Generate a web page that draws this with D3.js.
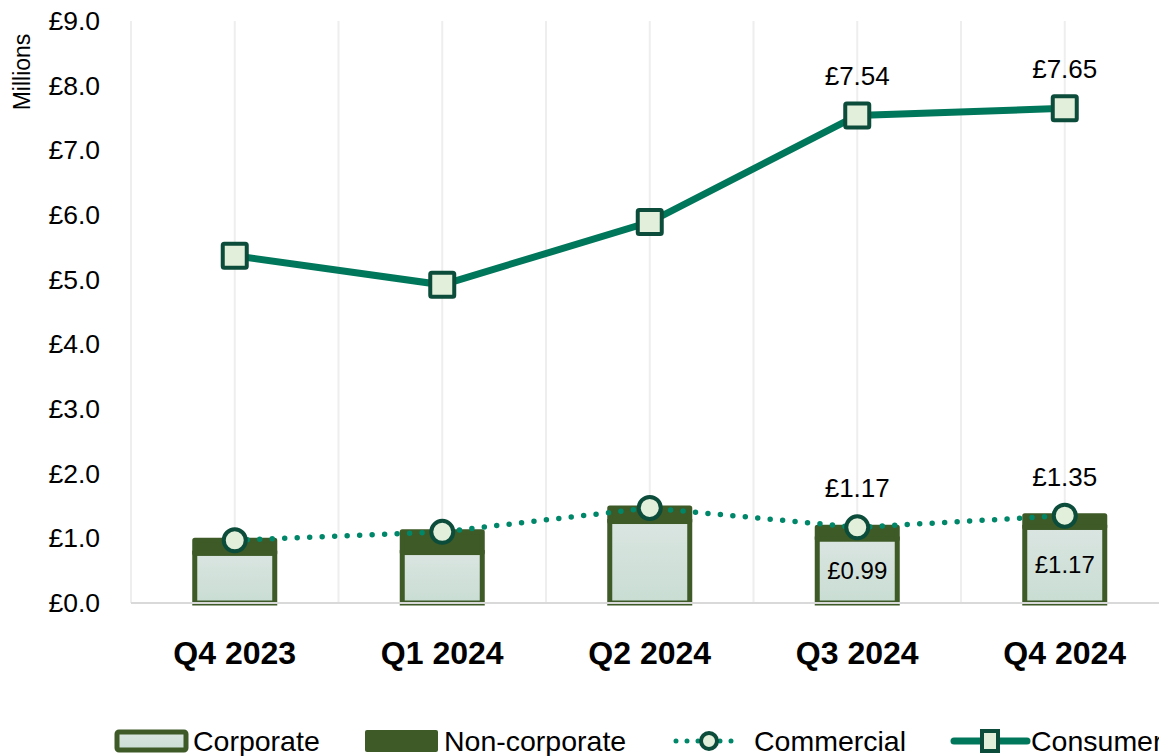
<!DOCTYPE html>
<html>
<head>
<meta charset="utf-8">
<script src="https://cdn.jsdelivr.net/npm/d3@7"></script>
<style>
  body { margin: 0; background: #fff; }
  svg { display: block; font-family: "Liberation Sans", Arial, sans-serif; }
</style>
</head>
<body>
<svg id="chart" width="1159" height="756"></svg>
<script>
// chart values (millions of pounds)
const quarters = ['Q4 2023', 'Q1 2024', 'Q2 2024', 'Q3 2024', 'Q4 2024'];
const corporate = [0.77, 0.78, 1.26, 0.99, 1.17];
const nonCorporate = [0.20, 0.32, 0.21, 0.18, 0.18];
const commercial = [0.97, 1.10, 1.47, 1.17, 1.35];
const consumer = [5.37, 4.92, 5.89, 7.54, 7.65];
const yTicks = [0, 1, 2, 3, 4, 5, 6, 7, 8, 9];
const labelled = ['Q3 2024', 'Q4 2024'];

const darkGreen = '#3d5a27';
const lineGreen = '#00775a';
const dotGreen = '#00876a';
const markerStroke = '#0c4c3a';
const markerFill = '#e2efda';

const svg = d3.select('#chart');

const defs = svg.append('defs');
const grad = defs.append('linearGradient')
  .attr('id', 'corpFill')
  .attr('x1', 0).attr('y1', 0).attr('x2', 0).attr('y2', 1);
grad.append('stop').attr('offset', '0%').attr('stop-color', '#dae5e1');
grad.append('stop').attr('offset', '100%').attr('stop-color', '#c9ddd3');

const x = d3.scaleBand()
  .domain(quarters)
  .range([131, 1168.5])
  .paddingInner(0)
  .paddingOuter(0);

const y = d3.scaleLinear()
  .domain([0, 9])
  .range([603, 21]);

const cx = function(q) { return x(q) + x.bandwidth() / 2; };
const barW = 80;

// vertical gridlines at band edges and centres
const gridX = [];
quarters.forEach(function(q) {
  gridX.push(x(q));
  gridX.push(cx(q));
});
gridX.push(x(quarters[quarters.length - 1]) + x.bandwidth());

svg.append('g')
  .selectAll('line')
  .data(gridX)
  .join('line')
  .attr('x1', function(d) { return d; })
  .attr('x2', function(d) { return d; })
  .attr('y1', y(9))
  .attr('y2', y(0))
  .attr('stroke', '#eeeeee')
  .attr('stroke-width', 2);

// y axis labels
const yAxis = svg.append('g')
  .attr('transform', 'translate(100,0)')
  .call(d3.axisLeft(y).tickValues(yTicks).tickSize(0).tickPadding(0)
    .tickFormat(function(d) { return '£' + d3.format('.1f')(d); }));
yAxis.select('.domain').remove();
yAxis.selectAll('text')
  .attr('font-size', 26.5)
  .attr('font-family', '"Liberation Sans", Arial, sans-serif')
  .attr('fill', '#000');

svg.append('text')
  .attr('transform', 'translate(30,72) rotate(-90)')
  .attr('text-anchor', 'middle')
  .attr('font-size', 23)
  .attr('fill', '#000')
  .text('Millions');

// stacked bars
const rows = quarters.map(function(q, i) {
  return { q: q, corp: corporate[i], non: nonCorporate[i] };
});

const bars = svg.append('g');
bars.selectAll('rect.corp')
  .data(rows)
  .join('rect')
  .attr('class', 'corp')
  .attr('x', function(d) { return cx(d.q) - barW / 2; })
  .attr('width', barW)
  .attr('y', function(d) { return y(d.corp); })
  .attr('height', function(d) { return y(0) - y(d.corp); })
  .attr('fill', 'url(#corpFill)')
  .attr('stroke', darkGreen)
  .attr('stroke-width', 5);

bars.selectAll('rect.non')
  .data(rows)
  .join('rect')
  .attr('class', 'non')
  .attr('x', function(d) { return cx(d.q) - barW / 2; })
  .attr('width', barW)
  .attr('y', function(d) { return y(d.corp + d.non); })
  .attr('height', function(d) { return y(d.corp) - y(d.corp + d.non); })
  .attr('fill', darkGreen)
  .attr('stroke', darkGreen)
  .attr('stroke-width', 5)
  .attr('stroke-linejoin', 'round');

// baseline
svg.append('line')
  .attr('x1', 131).attr('x2', 1159)
  .attr('y1', y(0)).attr('y2', y(0))
  .attr('stroke', '#d9d9d9')
  .attr('stroke-width', 2);

// corporate labels inside the bars
bars.selectAll('text.corp')
  .data(rows.filter(function(d) { return labelled.indexOf(d.q) >= 0; }))
  .join('text')
  .attr('class', 'corp')
  .attr('x', function(d) { return cx(d.q); })
  .attr('y', function(d) { return (y(0) + y(d.corp)) / 2 + 8; })
  .attr('text-anchor', 'middle')
  .attr('font-size', 24)
  .attr('fill', '#000')
  .text(function(d) { return '£' + d3.format('.2f')(d.corp); });

// commercial dotted line
const commPts = quarters.map(function(q, i) { return { q: q, v: commercial[i] }; });
const consPts = quarters.map(function(q, i) { return { q: q, v: consumer[i] }; });

const line = d3.line()
  .x(function(d) { return cx(d.q); })
  .y(function(d) { return y(d.v); });

svg.append('path')
  .datum(commPts)
  .attr('d', line)
  .attr('fill', 'none')
  .attr('stroke', dotGreen)
  .attr('stroke-width', 5.5)
  .attr('stroke-linecap', 'round')
  .attr('stroke-dasharray', '0 12.5');

svg.append('g')
  .selectAll('circle')
  .data(commPts)
  .join('circle')
  .attr('cx', function(d) { return cx(d.q); })
  .attr('cy', function(d) { return y(d.v); })
  .attr('r', 11)
  .attr('fill', markerFill)
  .attr('stroke', markerStroke)
  .attr('stroke-width', 4);

// consumer solid line
svg.append('path')
  .datum(consPts)
  .attr('d', line)
  .attr('fill', 'none')
  .attr('stroke', lineGreen)
  .attr('stroke-width', 7);

svg.append('g')
  .selectAll('rect')
  .data(consPts)
  .join('rect')
  .attr('x', function(d) { return cx(d.q) - 12; })
  .attr('y', function(d) { return y(d.v) - 12; })
  .attr('width', 24)
  .attr('height', 24)
  .attr('rx', 1.5)
  .attr('fill', markerFill)
  .attr('stroke', markerStroke)
  .attr('stroke-width', 4);

// value labels above the lines
const topLabels = commPts.concat(consPts)
  .filter(function(d) { return labelled.indexOf(d.q) >= 0; });
svg.append('g')
  .selectAll('text')
  .data(topLabels)
  .join('text')
  .attr('x', function(d) { return cx(d.q); })
  .attr('y', function(d) { return y(d.v) - 30; })
  .attr('text-anchor', 'middle')
  .attr('font-size', 26)
  .attr('fill', '#000')
  .text(function(d) { return '£' + d3.format('.2f')(d.v); });

// category labels
svg.append('g')
  .selectAll('text')
  .data(quarters)
  .join('text')
  .attr('x', function(d) { return cx(d); })
  .attr('y', 664)
  .attr('text-anchor', 'middle')
  .attr('font-size', 32)
  .attr('font-weight', 'bold')
  .attr('fill', '#000')
  .text(function(d) { return d; });

// legend
const legend = svg.append('g')
  .attr('font-family', '"Liberation Sans Narrow", "Arial Narrow", "Liberation Sans", sans-serif')
  .attr('font-size', 28.5);
const ly = 741;

legend.append('rect')
  .attr('x', 117).attr('y', ly - 9).attr('width', 69).attr('height', 18)
  .attr('fill', 'url(#corpFill)').attr('stroke', darkGreen).attr('stroke-width', 5).attr('rx', 2);
legend.append('text').attr('x', 193).attr('y', ly + 10).text('Corporate');

legend.append('rect')
  .attr('x', 365).attr('y', ly - 11).attr('width', 73).attr('height', 22)
  .attr('fill', darkGreen).attr('rx', 2);
legend.append('text').attr('x', 444).attr('y', ly + 10).text('Non-corporate');

legend.append('line')
  .attr('x1', 676).attr('x2', 740).attr('y1', ly).attr('y2', ly)
  .attr('stroke', dotGreen).attr('stroke-width', 5).attr('stroke-linecap', 'round')
  .attr('stroke-dasharray', '0 11');
legend.append('circle')
  .attr('cx', 709).attr('cy', ly).attr('r', 8)
  .attr('fill', markerFill).attr('stroke', markerStroke).attr('stroke-width', 4);
legend.append('text').attr('x', 754).attr('y', ly + 10).text('Commercial');

legend.append('line')
  .attr('x1', 954).attr('x2', 1027).attr('y1', ly).attr('y2', ly)
  .attr('stroke', lineGreen).attr('stroke-width', 7).attr('stroke-linecap', 'round');
legend.append('rect')
  .attr('x', 982).attr('y', ly - 10).attr('width', 16).attr('height', 20)
  .attr('fill', markerFill).attr('stroke', markerStroke).attr('stroke-width', 4);
legend.append('text').attr('x', 1031).attr('y', ly + 10).text('Consumer');
</script>
</body>
</html>
